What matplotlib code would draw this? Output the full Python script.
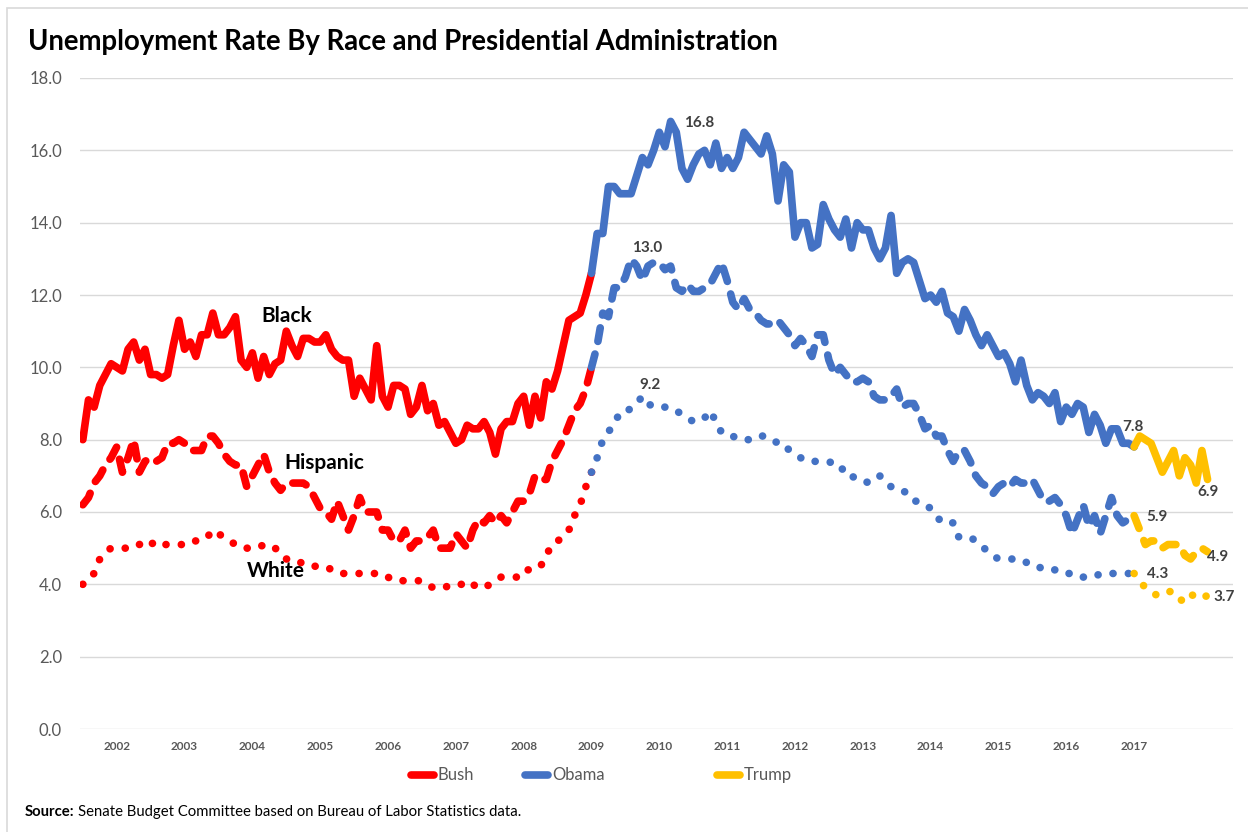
import numpy as np
import pandas as pd
import matplotlib
matplotlib.use("Agg")
import matplotlib.pyplot as plt
from matplotlib.lines import Line2D
from matplotlib.patches import Rectangle

plt.rcParams['font.family'] = ['Lato', 'DejaVu Sans']

# monthly data, Jul 2001 .. Feb 2018
months = pd.date_range('2001-07-01', '2018-02-01', freq='MS')

black_rate = [
    8.0, 9.1, 8.9, 9.5, 9.8, 10.1,                                      # 2001 (Jul-Dec)
    10.0, 9.9, 10.5, 10.7, 10.2, 10.5, 9.8, 9.8, 9.7, 9.8, 10.6, 11.3,  # 2002
    10.5, 10.7, 10.3, 10.9, 10.9, 11.5, 10.9, 10.9, 11.1, 11.4, 10.2, 10.0,
    10.4, 9.7, 10.3, 9.8, 10.1, 10.2, 11.0, 10.6, 10.3, 10.8, 10.8, 10.7,
    10.7, 10.9, 10.5, 10.3, 10.2, 10.2, 9.2, 9.7, 9.4, 9.1, 10.6, 9.2,
    8.9, 9.5, 9.5, 9.4, 8.7, 8.9, 9.5, 8.8, 9.0, 8.4, 8.5, 8.2,
    7.9, 8.0, 8.4, 8.3, 8.3, 8.5, 8.2, 7.6, 8.3, 8.5, 8.5, 9.0,
    9.2, 8.4, 9.2, 8.6, 9.6, 9.4, 9.9, 10.6, 11.3, 11.4, 11.5, 12.0,
    12.6, 13.7, 13.7, 15.0, 15.0, 14.8, 14.8, 14.8, 15.3, 15.8, 15.6, 16.0,
    16.5, 16.1, 16.8, 16.5, 15.5, 15.2, 15.6, 15.9, 16.0, 15.6, 16.2, 15.5,
    15.8, 15.5, 15.8, 16.5, 16.3, 16.1, 15.9, 16.4, 15.9, 14.6, 15.6, 15.4,
    13.6, 14.0, 14.0, 13.3, 13.4, 14.5, 14.1, 13.8, 13.6, 14.1, 13.3, 14.0,
    13.8, 13.8, 13.3, 13.0, 13.3, 14.2, 12.6, 12.9, 13.0, 12.9, 12.4, 11.9,
    12.0, 11.8, 12.1, 11.5, 11.4, 11.0, 11.6, 11.3, 10.9, 10.6, 10.9, 10.6,
    10.3, 10.4, 10.1, 9.6, 10.2, 9.5, 9.1, 9.3, 9.2, 9.0, 9.3, 8.5,
    8.9, 8.7, 9.0, 8.9, 8.2, 8.7, 8.4, 7.9, 8.3, 8.3, 7.9, 7.9,
    7.8, 8.1, 8.0, 7.9, 7.5, 7.1, 7.4, 7.7, 7.0, 7.5, 7.3, 6.8,
    7.7, 6.9,                                                            # 2018 (Jan-Feb)
]

hispanic_rate = [
    6.2, 6.4, 6.8, 7.0, 7.3, 7.5,
    7.8, 7.1, 7.5, 8.0, 7.1, 7.4, 7.5, 7.4, 7.5, 7.9, 7.9, 8.0,
    7.9, 7.7, 7.7, 7.7, 8.1, 8.1, 7.9, 7.6, 7.4, 7.3, 7.3, 6.7,
    7.0, 7.3, 7.6, 7.1, 6.8, 6.6, 6.8, 6.8, 6.8, 6.8, 6.7, 6.4,
    6.1, 6.0, 5.8, 6.3, 5.9, 5.5, 5.9, 6.4, 6.0, 6.0, 6.0, 5.5,
    5.5, 5.2, 5.2, 5.5, 5.0, 5.2, 5.2, 5.3, 5.5, 5.0, 5.0, 5.0,
    5.4, 5.2, 5.0, 5.5, 5.8, 5.7, 5.9, 5.7, 5.9, 5.7, 6.0, 6.3,
    6.3, 6.5, 7.0, 6.9, 6.9, 7.4, 7.7, 8.0, 8.4, 8.8, 9.0, 9.4,
    10.0, 10.6, 11.5, 11.4, 12.2, 12.2, 12.5, 13.0, 12.8, 12.4, 12.8, 12.9,
    12.9, 12.7, 12.8, 12.2, 12.1, 12.3, 12.1, 12.1, 12.2, 12.3, 12.6, 12.9,
    12.4, 11.8, 11.6, 11.9, 11.6, 11.5, 11.3, 11.2, 11.2, 11.3, 11.1, 10.9,
    10.6, 10.8, 10.6, 10.3, 10.9, 10.9, 10.2, 9.8, 10.0, 9.8, 9.6, 9.6,
    9.7, 9.6, 9.2, 9.1, 9.1, 9.2, 9.4, 8.9, 9.0, 9.0, 8.7, 8.3,
    8.4, 8.1, 8.1, 7.7, 7.4, 7.7, 7.7, 7.4, 7.0, 6.8, 6.7, 6.5,
    6.7, 6.8, 6.7, 6.9, 6.8, 6.8, 6.9, 6.6, 6.3, 6.3, 6.4, 6.2,
    5.9, 5.4, 5.8, 6.2, 5.6, 5.9, 5.4, 5.9, 6.4, 5.9, 5.7, 5.8,
    5.9, 5.5, 5.1, 5.2, 5.2, 5.0, 5.1, 5.1, 5.1, 4.8, 4.7, 4.9,
    5.0, 4.9,
]

white_rate = [
    4.0, 4.2, 4.3, 4.7, 4.9, 5.0,
    5.0, 5.0, 5.0, 5.1, 5.1, 5.2, 5.1, 5.2, 5.1, 5.1, 5.1, 5.1,
    5.1, 5.2, 5.2, 5.2, 5.3, 5.5, 5.4, 5.3, 5.2, 5.1, 5.0, 5.0,
    5.0, 5.0, 5.1, 5.0, 5.0, 4.9, 4.7, 4.7, 4.6, 4.6, 4.6, 4.5,
    4.5, 4.5, 4.4, 4.4, 4.3, 4.3, 4.3, 4.3, 4.3, 4.3, 4.3, 4.2,
    4.2, 4.1, 4.1, 4.1, 4.1, 4.1, 4.1, 4.0, 3.9, 3.9, 3.9, 4.0,
    4.0, 4.0, 4.1, 4.0, 3.9, 3.9, 4.0, 4.1, 4.2, 4.2, 4.2, 4.2,
    4.4, 4.4, 4.4, 4.5, 4.8, 5.1, 5.2, 5.3, 5.5, 5.9, 6.2, 6.7,
    7.1, 7.5, 8.0, 8.2, 8.5, 8.7, 8.7, 8.9, 9.0, 9.2, 9.0, 8.9,
    8.9, 8.9, 8.9, 8.8, 8.7, 8.6, 8.5, 8.5, 8.6, 8.8, 8.5, 8.2,
    8.2, 8.1, 8.0, 8.0, 8.0, 8.0, 8.1, 8.1, 8.0, 7.9, 7.9, 7.7,
    7.6, 7.5, 7.4, 7.4, 7.4, 7.4, 7.4, 7.3, 7.3, 7.0, 7.0, 6.9,
    6.9, 6.8, 6.9, 7.0, 6.8, 6.7, 6.6, 6.6, 6.5, 6.3, 6.3, 6.2,
    6.1, 5.9, 5.7, 5.7, 5.7, 5.3, 5.3, 5.3, 5.2, 5.1, 4.9, 4.8,
    4.7, 4.7, 4.7, 4.7, 4.7, 4.6, 4.6, 4.5, 4.4, 4.4, 4.4, 4.4,
    4.3, 4.3, 4.3, 4.2, 4.2, 4.2, 4.3, 4.3, 4.3, 4.3, 4.3, 4.3,
    4.3, 4.1, 3.9, 3.8, 3.7, 3.8, 3.8, 3.8, 3.6, 3.5, 3.7, 3.7,
    3.6, 3.7,
]

# administrations: name, first month, last month (inclusive), colour
administrations = [
    ('Bush', '2001-07-01', '2009-01-01', '#FF0000'),
    ('Obama', '2009-01-01', '2017-01-01', '#4472C4'),
    ('Trump', '2017-01-01', '2018-02-01', '#FFC000'),
]

series = [
    ('Black', black_rate, '-'),
    ('Hispanic', hispanic_rate, (0, (1.8, 1.7))),
    ('White', white_rate, (0, (0.01, 2.0))),
]

# point labels: (text, text position in data coords)
point_labels = [
    ('16.8', (109.0, 16.75)),
    ('13.0', (99.8, 13.3)),
    ('9.2', (100.4, 9.5)),
    ('7.8', (185.8, 8.35)),
    ('6.9', (199.1, 6.55)),
    ('5.9', (190.1, 5.86)),
    ('4.9', (200.7, 4.76)),
    ('4.3', (190.1, 4.29)),
    ('3.7', (201.9, 3.65)),
]

W, H = 1248, 832
fig = plt.figure(figsize=(W / 100, H / 100), dpi=100)


def fx(x):
    return x / W


def fy(y):
    return 1 - y / H


ax = fig.add_axes([fx(80), fy(729), fx(1233) - fx(80), fy(78) - fy(729)])

idx = np.arange(len(months))
lw = 5.5
for name, values, ls in series:
    vals = np.array(values)
    for admin, start, end, color in administrations:
        i0 = months.get_loc(pd.Timestamp(start))
        i1 = months.get_loc(pd.Timestamp(end))
        ax.plot(idx[i0:i1 + 1], vals[i0:i1 + 1], color=color, lw=lw,
                linestyle=ls, solid_capstyle='round', solid_joinstyle='round',
                dash_capstyle='round', dash_joinstyle='round', zorder=3)

ax.set_xlim(-0.5, 203.5)
ax.set_ylim(0, 18)
ax.set_yticks(np.arange(0, 18.1, 2))
ax.set_yticklabels([f'{v:.1f}' for v in np.arange(0, 18.1, 2)])
jan = [i for i, m in enumerate(months) if m.month == 1 and m.year <= 2017]
ax.set_xticks(jan)
ax.set_xticklabels([str(months[i].year) for i in jan], fontweight='bold')
ax.tick_params(axis='x', length=0, pad=9, labelsize=8.5, labelcolor='#595959')
ax.tick_params(axis='y', length=0, pad=13, labelsize=12, labelcolor='#595959')
ax.grid(axis='y', color='#D9D9D9', lw=1)
ax.set_axisbelow(True)
for s in ax.spines.values():
    s.set_visible(False)

# series names
ax.text(36.1, 11.42, 'Black', fontsize=15, fontweight='bold', ha='center', va='center')
ax.text(42.7, 7.35, 'Hispanic', fontsize=15, fontweight='bold', ha='center', va='center')
ax.text(34.2, 4.37, 'White', fontsize=15, fontweight='bold', ha='center', va='center')

for txt, (tx, ty) in point_labels:
    ax.text(tx, ty, txt, fontsize=11, fontweight='bold', color='#404040',
            ha='center', va='center')

# title and frame
fig.text(fx(28), fy(42), 'Unemployment Rate By Race and Presidential Administration',
         fontsize=19.8, fontweight='bold', va='center', ha='left')
fig.patches.append(Rectangle((fx(7), fy(834)), fx(1250) - fx(7), fy(8) - fy(834),
                             transform=fig.transFigure, fill=False,
                             edgecolor='#D9D9D9', lw=1.2))

# legend
legend_x = [408, 522, 714]
for (admin, start, end, color), lx in zip(administrations, legend_x):
    fig.add_artist(Line2D([fx(lx + 3), fx(lx + 26)], [fy(775), fy(775)], color=color,
                          lw=lw, solid_capstyle='round', transform=fig.transFigure))
    fig.text(fx(lx + 30), fy(775), admin, fontsize=12, color='#595959',
             va='center', ha='left')

# source note
r = fig.canvas.get_renderer()
src = fig.text(fx(25), fy(812), 'Source:', fontsize=10.7, fontweight='bold', va='center')
bb = src.get_window_extent(renderer=r)
fig.text(bb.x1 / W + 0.003, fy(812),
         'Senate Budget Committee based on Bureau of Labor Statistics data.',
         fontsize=10.7, va='center')

fig.savefig('out.png', dpi=100)
